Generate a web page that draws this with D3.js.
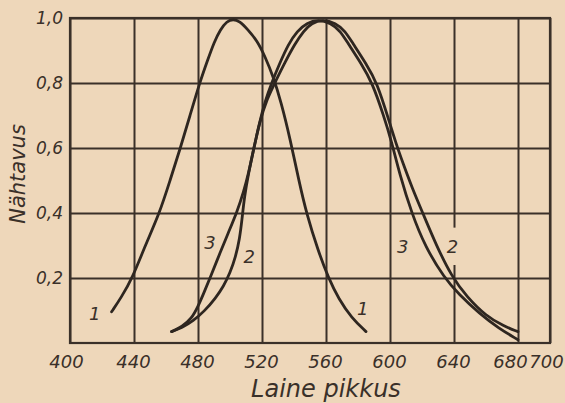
<!DOCTYPE html>
<html>
<head>
<meta charset="utf-8">
<script src="https://cdn.jsdelivr.net/npm/d3@7"></script>
<style>
  html, body { margin: 0; padding: 0; background: #eed7ba; }
  svg { display: block; }
  text { font-family: "DejaVu Sans", sans-serif; font-style: italic; fill: #3a3029; }
</style>
</head>
<body>
<script>
// chart size
var width = 565;
var height = 403;
var plotLeft = 70, plotRight = 550, plotTop = 18, plotBottom = 343;

// axis ticks
var xTicks = [400, 440, 480, 520, 560, 600, 640, 680, 700];
var yTicks = [0.2, 0.4, 0.6, 0.8, 1.0];

// curve 1 (wavelength nm, relative visibility)
var curve1 = [
  [426, 0.096], [432, 0.14], [439, 0.2], [447, 0.3], [456, 0.4], [462.5, 0.5],
  [469, 0.6], [475, 0.7], [481, 0.8], [486, 0.87], [490, 0.925], [494, 0.965],
  [498, 0.99], [502, 0.997], [506, 0.99], [511, 0.965], [517, 0.93], [522, 0.88],
  [527, 0.82], [532, 0.74], [537.5, 0.63], [543, 0.5], [548, 0.395], [555, 0.285],
  [561.5, 0.2], [568, 0.135], [576, 0.077], [585, 0.035]
];

// curve 2
var curve2 = [
  [463.5, 0.035], [470, 0.047], [477, 0.068], [484, 0.098], [491, 0.138], [496, 0.175],
  [500, 0.215], [503.5, 0.265], [506, 0.32], [507.5, 0.38], [509, 0.45], [511.5, 0.52],
  [514.5, 0.59], [518.5, 0.68], [523, 0.75], [529, 0.81], [534, 0.86], [540.5, 0.92],
  [546, 0.96], [551, 0.985], [558, 0.995], [566, 0.985], [572, 0.96], [577, 0.92],
  [585, 0.86], [592, 0.8], [599, 0.69], [604, 0.61], [608, 0.555], [614, 0.475],
  [621, 0.394], [629, 0.3], [638.5, 0.205], [648, 0.142], [660, 0.083], [671, 0.052],
  [680, 0.035]
];

// curve 3
var curve3 = [
  [463.5, 0.035], [470, 0.05], [476, 0.075], [480, 0.112], [484, 0.158], [487.5, 0.2],
  [494, 0.28], [499, 0.34], [504.5, 0.405], [508.5, 0.465], [511.5, 0.52], [514.5, 0.59],
  [518.5, 0.68], [522, 0.745], [526, 0.8], [531, 0.86], [536.5, 0.92], [542, 0.96],
  [548, 0.985], [555, 0.995], [563, 0.985], [569, 0.96], [574, 0.92], [582, 0.86],
  [589, 0.8], [596, 0.7], [601, 0.62], [606, 0.52], [613.5, 0.4], [622, 0.296],
  [634, 0.2], [643, 0.15], [656, 0.09], [668, 0.045], [680, 0.01]
];

// curve number labels
var curveLabels = [
  {t: "1", x: 415.5, y: 0.09},
  {t: "1", x: 583, y: 0.105},
  {t: "3", x: 487.5, y: 0.31},
  {t: "2", x: 512, y: 0.265},
  {t: "3", x: 608, y: 0.295},
  {t: "2", x: 639, y: 0.295}
];

var ink = "#3a3029";

var svg = d3.select("body")
            .append("svg")
            .attr("width", width)
            .attr("height", height);

var xScale = d3.scaleLinear().domain([400, 700]).range([plotLeft, plotRight]);
var yScale = d3.scaleLinear().domain([0, 1]).range([plotBottom, plotTop]);

// x axis with vertical grid lines
var xAxis = d3.axisBottom(xScale)
              .tickValues(xTicks)
              .tickSizeInner(-(plotBottom - plotTop))
              .tickSizeOuter(0)
              .tickPadding(12)
              .tickFormat(d3.format("d"));

var gx = svg.append("g")
   .attr("transform", "translate(0," + plotBottom + ")")
   .call(xAxis);
gx.select(".domain").remove();
gx.selectAll("line").attr("stroke", ink).attr("stroke-width", 2);
gx.selectAll("text").attr("font-size", "18px").attr("fill", ink)
  .attr("dx", function(d) {
    if (d === 680) return -8;
    if (d === 700) return -4;
    if (d === 400) return -4;
    return -1;
  });

// y axis with horizontal grid lines
var yAxis = d3.axisLeft(yScale)
              .tickValues(yTicks)
              .tickSizeInner(-(plotRight - plotLeft))
              .tickSizeOuter(0)
              .tickPadding(7)
              .tickFormat(function(d) { return d3.format(".1f")(d).replace(".", ","); });

var gy = svg.append("g")
   .attr("transform", "translate(" + plotLeft + ",0)")
   .call(yAxis);
gy.select(".domain").remove();
gy.selectAll("line").attr("stroke", ink).attr("stroke-width", 2);
gy.selectAll("text").attr("font-size", "17px").attr("fill", ink);

// frame
svg.append("rect")
   .attr("x", plotLeft).attr("y", plotTop)
   .attr("width", plotRight - plotLeft).attr("height", plotBottom - plotTop)
   .attr("fill", "none").attr("stroke", ink).attr("stroke-width", 2.2);

// gap in the 640 grid line behind label
svg.append("rect")
   .attr("x", xScale(640) - 3).attr("y", yScale(0.355))
   .attr("width", 6).attr("height", yScale(0.24) - yScale(0.355))
   .attr("fill", "#eed7ba");

// curves
var line = d3.line()
             .x(function(d) { return xScale(d[0]); })
             .y(function(d) { return yScale(d[1]); })
             .curve(d3.curveBasis);

[curve1, curve2, curve3].forEach(function(c) {
  svg.append("path")
     .datum(c)
     .attr("d", line)
     .attr("fill", "none")
     .attr("stroke", "#2e2620")
     .attr("stroke-width", 2.8)
     .attr("stroke-linecap", "round");
});

// curve number labels
svg.selectAll(".clabel")
   .data(curveLabels)
   .enter()
   .append("text")
   .attr("class", "clabel")
   .attr("x", function(d) { return xScale(d.x); })
   .attr("y", function(d) { return yScale(d.y); })
   .attr("text-anchor", "middle")
   .attr("dy", "0.35em")
   .attr("font-size", "18px")
   .text(function(d) { return d.t; });

// axis titles
svg.append("text")
   .attr("x", 326).attr("y", 397)
   .attr("text-anchor", "middle")
   .attr("font-size", "24px")
   .text("Laine pikkus");

svg.append("text")
   .attr("transform", "translate(25,174) rotate(-90)")
   .attr("text-anchor", "middle")
   .attr("font-size", "21px")
   .text("Nähtavus");
</script>
</body>
</html>
